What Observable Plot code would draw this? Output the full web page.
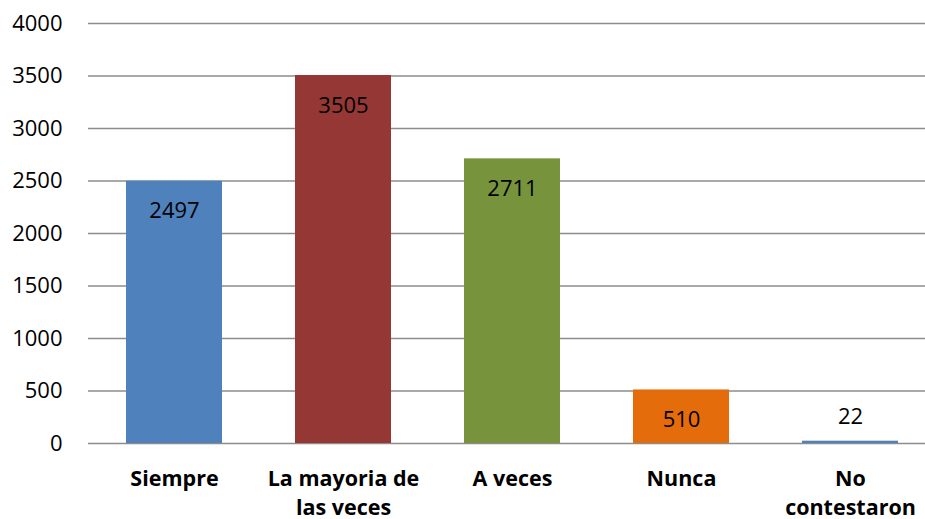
<!DOCTYPE html>
<html><head><meta charset="utf-8">
<script src="https://cdn.jsdelivr.net/npm/d3@7"></script>
<script src="https://cdn.jsdelivr.net/npm/@observablehq/plot@0.6"></script>
<style>body{margin:0;background:#fff;} svg{display:block;}</style>
</head><body><div id="chart"></div>
<script>
const categories = ["Siempre", "La mayoria de\nlas veces", "A veces", "Nunca", "No\ncontestaron"];
const values = [2497, 3505, 2711, 510, 22];
const colors = ["#4F81BD", "#953735", "#77933C", "#E46C0A", "#4F81BD"];
const yTicks = [0, 500, 1000, 1500, 2000, 2500, 3000, 3500, 4000];

const data = categories.map((c, i) => ({cat: c, value: values[i], color: colors[i]}));
const font = "'Open Sans', sans-serif";

const chart = Plot.plot({
  width: 925,
  height: 519,
  marginLeft: 88,
  marginRight: 0,
  marginTop: 23,
  marginBottom: 76,
  style: {fontFamily: font, background: "#fff", overflow: "hidden"},
  x: {domain: categories, range: [88, 936.5], paddingInner: 0.43, paddingOuter: 0.215, label: null},
  y: {domain: [0, 4000], label: null},
  marks: [
    Plot.ruleY(yTicks, {stroke: "#8c8c8c", strokeWidth: 1.6}),
    Plot.barY(data, {x: "cat", y: "value", fill: "color"}),
    Plot.ruleX([0], {x: () => 88, frameAnchor: "left", stroke: "#8c8c8c", strokeWidth: 1.6}),
    Plot.text(data.filter(d => d.value > 100), {x: "cat", y: "value", text: d => String(d.value), dy: 30, fontSize: 22, fill: "#000"}),
    Plot.text(data.filter(d => d.value <= 100), {x: "cat", y: "value", text: d => String(d.value), dy: -24, fontSize: 22, fill: "#000"}),
    Plot.axisY({ticks: yTicks, tickFormat: d => String(d), tickSize: 0, tickPadding: 26, fontSize: 22, fill: "#000", label: null}),
    Plot.axisX({tickSize: 0, tickPadding: 21, fontSize: 21.5, fontWeight: "bold", fill: "#000", lineHeight: 1.38, label: null})
  ]
});
document.getElementById("chart").appendChild(chart);
</script></body></html>
